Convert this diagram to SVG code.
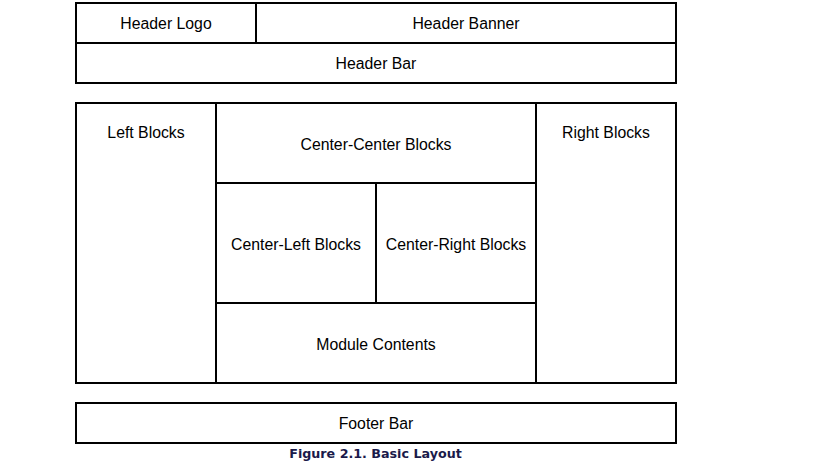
<svg xmlns="http://www.w3.org/2000/svg" width="825" height="465" viewBox="0 0 825 465">
  <style>
    .box { fill: #ffffff; stroke: #000000; stroke-width: 2; }
    .ln { stroke: #000000; stroke-width: 2; fill: none; }
    .lbl { font-family: "Liberation Sans", Arial, sans-serif; font-size: 15.8px; fill: #000000; text-anchor: middle; }
    .cap { font-family: "DejaVu Sans", Verdana, sans-serif; font-size: 12.7px; font-weight: bold; fill: #1a1a4a; text-anchor: middle; }
  </style>
  <rect width="825" height="465" fill="#ffffff"/>

  <!-- header region -->
  <g id="header">
    <rect class="box" x="76" y="3" width="600" height="80"/>
  </g>
  <g id="header-logo">
    <text class="lbl" x="166" y="29">Header Logo</text>
  </g>
  <g id="header-banner">
    <text class="lbl" x="466" y="29">Header Banner</text>
  </g>
  <g id="header-bar">
    <text class="lbl" x="376" y="69">Header Bar</text>
  </g>

  <!-- main body region -->
  <g id="body">
    <rect class="box" x="76" y="103" width="600" height="280"/>
  </g>
  <g id="left-blocks">
    <text class="lbl" x="146" y="138">Left Blocks</text>
  </g>
  <g id="center-center-blocks">
    <text class="lbl" x="376" y="150">Center-Center Blocks</text>
  </g>
  <g id="center-left-blocks">
    <text class="lbl" x="296" y="250">Center-Left Blocks</text>
  </g>
  <g id="center-right-blocks">
    <text class="lbl" x="456" y="250">Center-Right Blocks</text>
  </g>
  <g id="module-contents">
    <text class="lbl" x="376" y="350">Module Contents</text>
  </g>
  <g id="right-blocks">
    <text class="lbl" x="606" y="138">Right Blocks</text>
  </g>

  <!-- footer region -->
  <g id="footer-bar">
    <rect class="box" x="76" y="403" width="600" height="40"/>
    <text class="lbl" x="376" y="429">Footer Bar</text>
  </g>

  <!-- dividing lines between cells -->
  <g id="connectors">
    <line class="ln" x1="256" y1="3" x2="256" y2="43"/>
    <line class="ln" x1="76" y1="43" x2="676" y2="43"/>
    <line class="ln" x1="216" y1="103" x2="216" y2="383"/>
    <line class="ln" x1="536" y1="103" x2="536" y2="383"/>
    <line class="ln" x1="216" y1="183" x2="536" y2="183"/>
    <line class="ln" x1="376" y1="183" x2="376" y2="303"/>
    <line class="ln" x1="216" y1="303" x2="536" y2="303"/>
  </g>

  <text class="cap" x="375.5" y="458">Figure 2.1. Basic Layout</text>
</svg>
